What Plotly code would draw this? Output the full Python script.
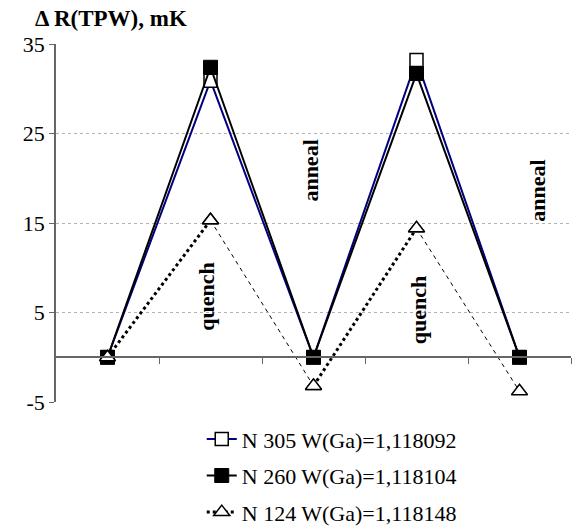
import plotly.graph_objects as go

stages = [1, 2, 3, 4, 5]
n305 = [0, 30.9, 0, 33.2, 0]
n260 = [0, 32.4, 0, 31.7, 0]
n124 = [0, 15.3, -3.2, 14.4, -3.8]
names = ["N 305 W(Ga)=1,118092", "N 260 W(Ga)=1,118104", "N 124 W(Ga)=1,118148"]
yticks = [-5, 5, 15, 25, 35]
labels = [("quench", 1.96, 6.8), ("anneal", 2.97, 20.9), ("quench", 4.02, 5.2), ("anneal", 5.18, 18.6)]

FONT = "Liberation Serif"

fig = go.Figure()

fig.add_trace(go.Scatter(
    x=stages, y=n305, mode="lines+markers", name=names[0],
    line=dict(color="#000080", width=2),
    marker=dict(symbol="square", size=13, color="white", line=dict(color="black", width=1.5)),
    legendgroup="a"))
fig.add_trace(go.Scatter(
    x=stages, y=n260, mode="lines+markers", name=names[1],
    line=dict(color="black", width=2),
    marker=dict(symbol="square", size=14, color="black", line=dict(color="black", width=1)),
    legendgroup="b"))

# N 124: falling segments thin dashed, rising segments thick dotted
fx, fy, rx, ry = [], [], [], []
for i in range(len(stages) - 1):
    if n124[i + 1] < n124[i]:
        fx += [stages[i], stages[i + 1], None]
        fy += [n124[i], n124[i + 1], None]
    else:
        rx += [stages[i], stages[i + 1], None]
        ry += [n124[i], n124[i + 1], None]

tri = dict(symbol="triangle-up", size=14, color="white", line=dict(color="black", width=1.5))
fig.add_trace(go.Scatter(
    x=fx, y=fy, mode="lines+markers", showlegend=False,
    line=dict(color="black", width=1, dash="4px,4px"), marker=tri, legendgroup="c"))
fig.add_trace(go.Scatter(
    x=rx, y=ry, mode="lines+markers", name=names[2],
    line=dict(color="black", width=3, dash="dot"), marker=tri, legendgroup="c"))

for txt, xv, yv in labels:
    fig.add_annotation(x=xv, y=yv, text="<b>%s</b>" % txt, textangle=-90, showarrow=False,
                       font=dict(family=FONT, size=22, color="black"))

fig.add_annotation(xref="paper", yref="paper", x=-0.045, y=1.07, xanchor="left", yanchor="middle",
                   text="<b>Δ R(TPW), mK</b>", showarrow=False,
                   font=dict(family=FONT, size=23, color="black"))

fig.update_layout(
    width=573, height=531,
    margin=dict(l=56, r=2, t=44, b=129, autoexpand=False),
    plot_bgcolor="white", paper_bgcolor="white",
    font=dict(family=FONT, size=22, color="black"),
    showlegend=True,
    legend=dict(x=0.283, y=-0.045, xanchor="left", yanchor="top",
                font=dict(family=FONT, size=22, color="black"),
                tracegroupgap=5, bgcolor="rgba(0,0,0,0)"),
    xaxis=dict(range=[0.5, 5.5], anchor="free", position=0.125, automargin=False,
               showline=True, linecolor="#666666", linewidth=1.5,
               ticks="outside", ticklen=6, tickcolor="#666666",
               tickvals=[1.5, 2.5, 3.5, 4.5, 5.5], showticklabels=False,
               showgrid=False, zeroline=False),
    yaxis=dict(range=[-5, 35], tickvals=yticks, ticktext=[str(v) for v in yticks],
               automargin=False,
               showline=True, linecolor="#666666", linewidth=1.5,
               ticks="outside", ticklen=5, tickcolor="#666666",
               showgrid=True, gridcolor="#b4b4b4", griddash="3px,3px", gridwidth=1,
               zeroline=False, tickfont=dict(family=FONT, size=22, color="black")),
)

fig.write_html("out.html", config={"displayModeBar": False},
               post_script="document.body.style.margin='0';document.body.style.overflow='hidden';")
